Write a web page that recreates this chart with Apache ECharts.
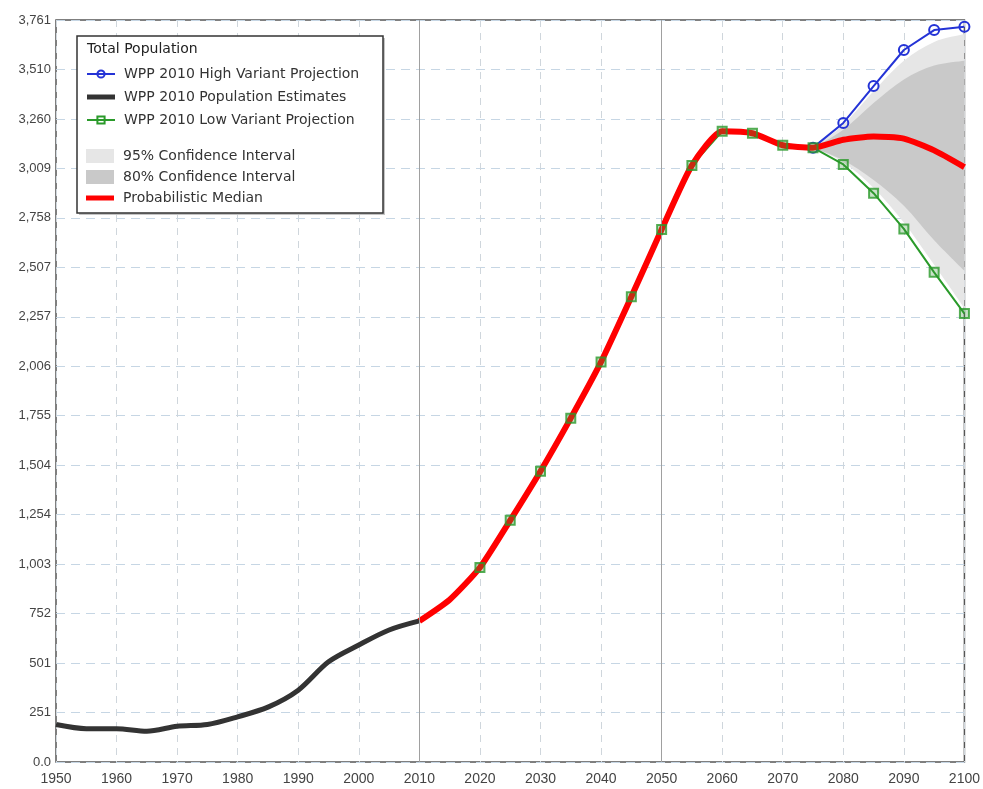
<!DOCTYPE html>
<html><head><meta charset="utf-8">
<script src="https://cdn.jsdelivr.net/npm/echarts@6/dist/echarts.min.js"></script>
<style>html,body{margin:0;padding:0;background:#fff}#c{width:983px;height:789px}</style>
</head><body><div id="c"></div>
<script>
// ---- data ----
const estYears  = [1950,1955,1960,1965,1970,1975,1980,1985,1990,1995,2000,2005,2010];
const estValues = [190,169,169,156,181,190,229,278,364,508,593,669,715];

const medYears  = [2010,2015,2020,2025,2030,2035,2040,2045,2050,2055,2060,2065,2070,2075,2080,2085,2090,2095,2100];
const medValues = [715,823,986,1225,1474,1743,2028,2358,2699,3024,3197,3187,3126,3114,3154,3171,3160,3100,3015];

const lowYears  = [2020,2025,2030,2035,2040,2045,2050,2055,2060,2065,2070,2075,2080,2085,2090,2095,2100];
const lowValues = [986,1225,1474,1743,2028,2358,2699,3024,3197,3187,3126,3114,3029,2883,2702,2482,2273];

const highYears  = [2075,2080,2085,2090,2095,2100];
const highValues = [3114,3239,3426,3609,3710,3727];

const ciYears  = [2075,2080,2085,2090,2095,2100];
const ci95Low  = [3114,3040,2910,2735,2520,2300];
const ci80Low  = [3114,3050,2950,2820,2645,2490];
const ci80High = [3114,3205,3340,3460,3530,3555];
const ci95High = [3114,3230,3400,3555,3650,3690];

const verticalMarks = [2010, 2050];
const xMin = 1950, xMax = 2100, xStep = 10;
const yMax = 3761, yTickCount = 15;

const legendTitle = 'Total Population';
const NAME_HIGH = 'WPP 2010 High Variant Projection';
const NAME_EST  = 'WPP 2010 Population Estimates';
const NAME_LOW  = 'WPP 2010 Low Variant Projection';
const NAME_95   = '95% Confidence Interval';
const NAME_80   = '80% Confidence Interval';
const NAME_MED  = 'Probabilistic Median';

// ---- helpers ----
const pairs = (xs, ys) => xs.map((x, i) => [x, ys[i]]);

const FONT = 'Liberation Sans, Arial, sans-serif';
const LFONT = 'DejaVu Sans, Verdana, sans-serif';
const C_BLUE = '#2433d6', C_GREEN = '#2a9a2a', C_RED = '#ff0000', C_BLACK = '#333333';
const C_95 = '#e6e6e6', C_80 = '#c9c9c9';

// Catmull-Rom curve through pixel points -> path commands (rendering only)
function curvePath(pts, moveFirst) {
  let d = (moveFirst ? 'M' : 'L') + pts[0][0] + ' ' + pts[0][1];
  for (let i = 0; i < pts.length - 1; i++) {
    const p0 = pts[Math.max(i - 1, 0)], p1 = pts[i], p2 = pts[i + 1], p3 = pts[Math.min(i + 2, pts.length - 1)];
    const c1 = [p1[0] + (p2[0] - p0[0]) / 6, p1[1] + (p2[1] - p0[1]) / 6];
    const c2 = [p2[0] - (p3[0] - p1[0]) / 6, p2[1] - (p3[1] - p1[1]) / 6];
    d += ' C' + c1[0] + ' ' + c1[1] + ' ' + c2[0] + ' ' + c2[1] + ' ' + p2[0] + ' ' + p2[1];
  }
  return d;
}

function bandSeries(name, color, lower, upper, z) {
  return {
    name, type: 'custom', z, silent: true,
    itemStyle: {color},
    data: [[ciYears[0], upper[0]]],
    renderItem: (params, api) => {
      const up = ciYears.map((y, i) => api.coord([y, upper[i]]));
      const lo = ciYears.map((y, i) => api.coord([y, lower[i]])).reverse();
      const d = curvePath(up, true) + ' ' + curvePath(lo, false) + ' Z';
      return {type: 'path', shape: {pathData: d}, style: {fill: color}};
    }
  };
}

const chart = echarts.init(document.getElementById('c'), null, {renderer: 'canvas'});

const option = {
  animation: false,
  backgroundColor: '#ffffff',
  grid: {left: 56, right: 13, top: 20, bottom: 27, show: true, borderColor: '#555', borderWidth: 1.5, backgroundColor: '#fff'},
  xAxis: {
    type: 'value', min: xMin, max: xMax, interval: xStep,
    axisLine: {show: false}, axisTick: {show: false},
    axisLabel: {color: '#444', fontSize: 14, fontFamily: FONT, margin: 10, formatter: v => String(v)},
    splitLine: {show: true, lineStyle: {color: '#cfd6dc', type: [7, 6], width: 1}}
  },
  yAxis: {
    type: 'value', min: 0, max: yMax, interval: yMax / yTickCount,
    axisLine: {show: false}, axisTick: {show: false},
    axisLabel: {
      color: '#444', fontSize: 13, fontFamily: FONT, margin: 5,
      formatter: v => v === 0 ? '0.0' : Math.round(v).toLocaleString('en-US')
    },
    splitLine: {show: true, lineStyle: {color: '#c6d6e4', type: [9, 6], width: 1}}
  },
  legend: [
    {
      left: 81, top: 62, orient: 'vertical', itemWidth: 28, itemHeight: 9, itemGap: 9,
      selectedMode: false, z: 6,
      textStyle: {color: '#333', fontSize: 14, fontFamily: LFONT, padding: [0, 0, 0, 4]},
      data: [NAME_HIGH, {name: NAME_EST, icon: 'path://M0 0H28V5H0Z'}, NAME_LOW]
    },
    {
      left: 81, top: 144, orient: 'vertical', itemWidth: 28, itemHeight: 14, itemGap: 7,
      selectedMode: false, z: 6,
      textStyle: {color: '#333', fontSize: 14, fontFamily: LFONT, padding: [0, 0, 0, 4]},
      data: [{name: NAME_95, icon: 'rect'}, {name: NAME_80, icon: 'rect'}, {name: NAME_MED, icon: 'path://M0 0H28V5H0Z'}]
    }
  ],
  graphic: [
    {type: 'rect', z: 5, shape: {x: 79, y: 38, width: 306, height: 177}, style: {fill: '#c4c4c4'}},
    {type: 'rect', z: 5, shape: {x: 77, y: 36, width: 306, height: 177}, style: {fill: '#fff', stroke: '#333', lineWidth: 1.5}},
    {type: 'text', z: 7, x: 87, y: 49, style: {text: legendTitle, fill: '#222', font: '14px ' + LFONT, textVerticalAlign: 'middle'}}
  ],
  series: [
    bandSeries(NAME_95, C_95, ci95Low, ci95High, 1),
    bandSeries(NAME_80, C_80, ci80Low, ci80High, 1),
    {
      name: NAME_EST, type: 'line', smooth: 0.3, symbol: 'none', z: 3,
      itemStyle: {color: C_BLACK}, lineStyle: {color: C_BLACK, width: 5},
      data: pairs(estYears, estValues),
      markLine: {
        silent: true, symbol: 'none', label: {show: false},
        lineStyle: {color: '#a0a0a0', type: 'solid', width: 1},
        data: verticalMarks.map(x => ({xAxis: x}))
      }
    },
    {
      name: NAME_LOW, type: 'line', symbol: 'rect', symbolSize: 9, showSymbol: false, z: 2,
      itemStyle: {color: 'rgba(0,0,0,0)', borderColor: C_GREEN, borderWidth: 2},
      lineStyle: {color: C_GREEN, width: 2},
      data: pairs(lowYears, lowValues)
    },
    {
      name: NAME_HIGH, type: 'line', symbol: 'circle', symbolSize: 10, z: 3,
      itemStyle: {color: 'rgba(0,0,0,0)', borderColor: C_BLUE, borderWidth: 2},
      lineStyle: {color: C_BLUE, width: 2},
      data: pairs(highYears, highValues)
    },
    {
      name: NAME_MED, type: 'line', smooth: 0.2, symbol: 'none', z: 4,
      itemStyle: {color: C_RED}, lineStyle: {color: C_RED, width: 6},
      data: pairs(medYears, medValues)
    },
    {
      name: 'lowMarkers', type: 'scatter', symbol: 'rect', symbolSize: 9, z: 5,
      itemStyle: {color: 'rgba(60,150,60,0.35)', borderColor: C_GREEN, borderWidth: 2},
      data: pairs(lowYears, lowValues)
    }
  ]
};
chart.setOption(option);
</script>
</body></html>
